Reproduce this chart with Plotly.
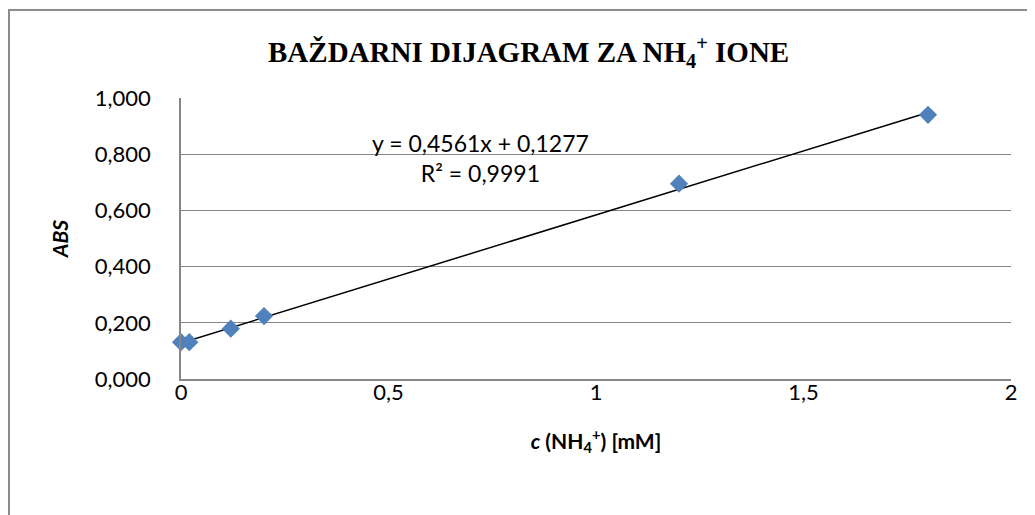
import plotly.graph_objects as go

# Data
conc = [0, 0.02, 0.12, 0.2, 1.2, 1.8]
absorb = [0.131, 0.131, 0.179, 0.224, 0.695, 0.940]
trend_x = [0, 1.8]
trend_y = [0.1277, 0.9487]
y_ticks = [0, 0.2, 0.4, 0.6, 0.8, 1.0]
x_ticks = [0, 0.5, 1, 1.5, 2]

OFF = 8  # page body margin
W, H = 1035 - OFF, 515 - OFF
L, T = 181 - OFF, 98 - OFF
R = W - (1011 - OFF)
B = H - (379 - OFF)
pw, ph = W - L - R, H - T - B

def px(xp):
    return (xp - OFF - L) / pw

def py(yp):
    return 1 - (yp - OFF - T) / ph

fig = go.Figure()
fig.add_trace(go.Scatter(
    x=trend_x, y=trend_y, mode="lines",
    line=dict(color="black", width=1.5), showlegend=False, hoverinfo="skip",
    cliponaxis=False))
fig.add_trace(go.Scatter(
    x=conc, y=absorb, mode="markers",
    marker=dict(symbol="diamond", size=14, color="#4F81BD"),
    showlegend=False, cliponaxis=False))

FAM = "Lato, Open Sans, sans-serif"
tick_font = dict(family=FAM, size=22, color="black")

fig.update_layout(
    width=W, height=H,
    margin=dict(l=L, r=R, t=T, b=B),
    paper_bgcolor="white", plot_bgcolor="white",
    separators=",.",
    xaxis=dict(range=[0, 2], tickvals=x_ticks, showgrid=False,
               showline=True, linecolor="#868686", linewidth=1.5,
               zeroline=False, ticks="", tickfont=tick_font, ticklabelstandoff=-7,
               title=dict(text="<b><i>c</i> (NH<sub>4</sub><sup>+</sup>) [mM]</b>",
                          font=dict(family=FAM, size=21, color="black"),
                          standoff=30)),
    yaxis=dict(range=[0, 1.0], tickvals=y_ticks, tickformat=".3f",
               showgrid=True, gridcolor="#868686", gridwidth=1,
               showline=True, linecolor="#868686", linewidth=1.5,
               zeroline=False, ticks="", tickfont=tick_font, ticklabelstandoff=24,
               title=dict(text="<b><i>ABS</i></b>",
                          font=dict(family=FAM, size=21, color="black"),
                          standoff=20)),
    font=dict(family=FAM, color="black"),
)

fig.add_annotation(
    x=px(528), y=py(52), xref="paper", yref="paper", showarrow=False,
    text="<b>BAŽDARNI DIJAGRAM ZA NH<sub>4</sub><sup>+</sup> IONE</b>",
    font=dict(family="Liberation Serif, Times New Roman, serif", size=29, color="black"),
    xanchor="center", yanchor="middle")

fig.add_annotation(
    x=px(480), y=py(158), xref="paper", yref="paper", showarrow=False,
    text="y = 0,4561x + 0,1277<br>R² = 0,9991",
    font=dict(family=FAM, size=23, color="black"),
    xanchor="center", yanchor="middle", align="center")

fig.add_shape(type="rect", xref="paper", yref="paper",
              x0=px(9), y0=py(560), x1=px(1060), y1=py(10),
              line=dict(color="#8c8c8c", width=2), fillcolor="rgba(0,0,0,0)", layer="below")

fig.write_html("out.html")
